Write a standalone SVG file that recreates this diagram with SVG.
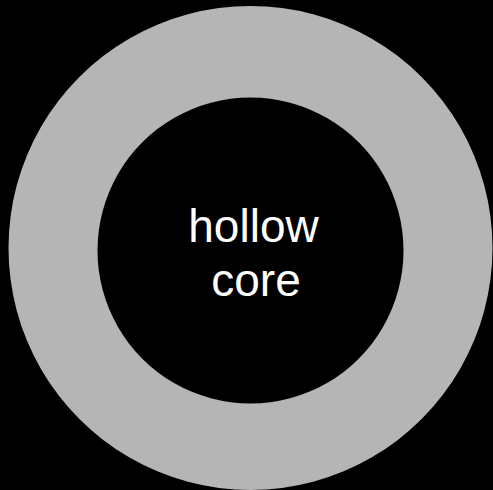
<svg xmlns="http://www.w3.org/2000/svg" width="493" height="490" viewBox="0 0 493 490">
<style>
.lbl{font-family:"Liberation Sans",Arial,sans-serif;font-size:46px;fill:#ffffff;text-anchor:middle}
</style>
<rect width="493" height="490" fill="#000000"/>
<g id="ring">
<path d="M250.5,6 a242,242 0 1,0 0.001,0 Z M250.5,97.5 a153,153 0 1,0 0.001,0 Z" fill="#b5b5b5" fill-rule="evenodd"/>
</g>
<g id="core">
<text class="lbl" x="253.5" y="242">hollow</text>
<text class="lbl" x="256" y="296">core</text>
</g>
</svg>
